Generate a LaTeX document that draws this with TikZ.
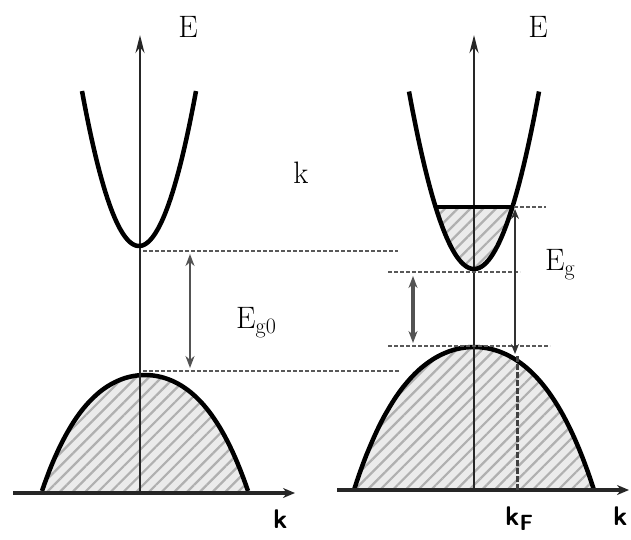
\documentclass[tikz,border=0pt]{standalone}
\usepackage{graphicx}
\usetikzlibrary{arrows.meta,patterns.meta}
\newcommand{\lowtext}[1]{\raisebox{-5pt}{\fontsize{22}{22}\selectfont #1}}
\tikzset{
  lbl/.style={font=\fontsize{31}{34}\selectfont, inner sep=0pt},
  klbl/.style={font=\fontsize{27}{30}\selectfont\bfseries\sffamily, inner sep=0pt},
  band/.style={line width=4.5pt, black, line join=round},
  fermi/.style={line width=3.5pt, black},
  eaxis/.style={line width=2.5pt, black!85, -{Stealth[length=18pt,width=9pt]}},
  kaxis/.style={line width=3.5pt, black!85, -{Stealth[length=12pt,width=10pt]}},
  hatch/.style={fill=gray!16, postaction={pattern={Lines[angle=45,distance=9pt,line width=2.2pt]}, pattern color=gray!62}},
  dotline/.style={gray!70!black, line width=2pt, dash pattern=on 4pt off 2pt},
  gaparrow/.style={gray!65!black, line width=2pt, {Stealth[length=12pt,width=9pt]}-{Stealth[length=12pt,width=9pt]}},
  egarrow/.style={black!80, line width=1.6pt, {Stealth[length=10pt,width=8pt]}-{Stealth[length=10pt,width=8pt]}},
  kfline/.style={black!75, line width=3pt, dash pattern=on 6pt off 2pt}
}
\begin{document}
\begin{tikzpicture}[x=1pt,y=-1pt]
\useasboundingbox (0,0) rectangle (631,539);
% ---------- left diagram ----------
\path[hatch] plot[domain=-103:103, samples=80]
  ({145+\x},{375+116*(0.7*\x*\x/10609+0.3*(\x*\x/10609)*(\x*\x/10609))}) -- cycle;
\draw[band] plot[domain=-103:103, samples=80]
  ({145+\x},{375+116*(0.7*\x*\x/10609+0.3*(\x*\x/10609)*(\x*\x/10609))});
\draw[kaxis] (13,493) -- (295,493);
\draw[eaxis] (140,493) -- (140,35);
\draw[band] plot[domain=-57:57, samples=60] ({139+\x},{246-0.0477*\x*\x});
\draw[dotline] (143,251) -- (398,251);
\draw[dotline] (143,371) -- (400,371);
\draw[gaparrow] (190,254) -- (190,368);
\node[lbl] (E1) at (188,27) {E};
\node[lbl] (kmid) at (301,173) {k};
\node[lbl, anchor=base west] (Eg0) at (236,328) {E\lowtext{g0}};
\node[klbl, anchor=base west] (k1) at (273,528) {k};
% ---------- right diagram ----------
\path[hatch] plot[domain=-120:120, samples=80]
  ({474+\x},{347+143*(0.7*\x*\x/14400+0.3*(\x*\x/14400)*(\x*\x/14400))}) -- cycle;
\draw[band] plot[domain=-120:120, samples=80]
  ({474+\x},{347+143*(0.7*\x*\x/14400+0.3*(\x*\x/14400)*(\x*\x/14400))});
\path[hatch] plot[domain=-38.4:38.4, samples=40] ({474+\x},{269-0.042*\x*\x}) -- cycle;
\draw[kaxis] (337,490) -- (629,490);
\draw[eaxis] (474,490) -- (474,35);
\draw[band] plot[domain=-65:65, samples=60] ({474+\x},{269-0.042*\x*\x});
\draw[fermi] (435.6,207) -- (512.4,207);
\draw[dotline] (514,207) -- (546,207);
\draw[dotline] (388,272) -- (520,272);
\draw[dotline] (388,346) -- (550,346);
\draw[gaparrow, line width=3.5pt] (413,276) -- (413,343);
\draw[egarrow] (515,209) -- (515,354);
\draw[kfline] (517,356) -- (517,490);
\node[lbl] (E2) at (538,27) {E};
\node[lbl, anchor=base west] (Eg) at (545,270) {E\lowtext{g}};
\node[klbl, anchor=base west] (kF) at (505,525) {k\lowtext{F}};
\node[klbl, anchor=base west] (k2) at (613,525) {k};
\end{tikzpicture}
\end{document}
